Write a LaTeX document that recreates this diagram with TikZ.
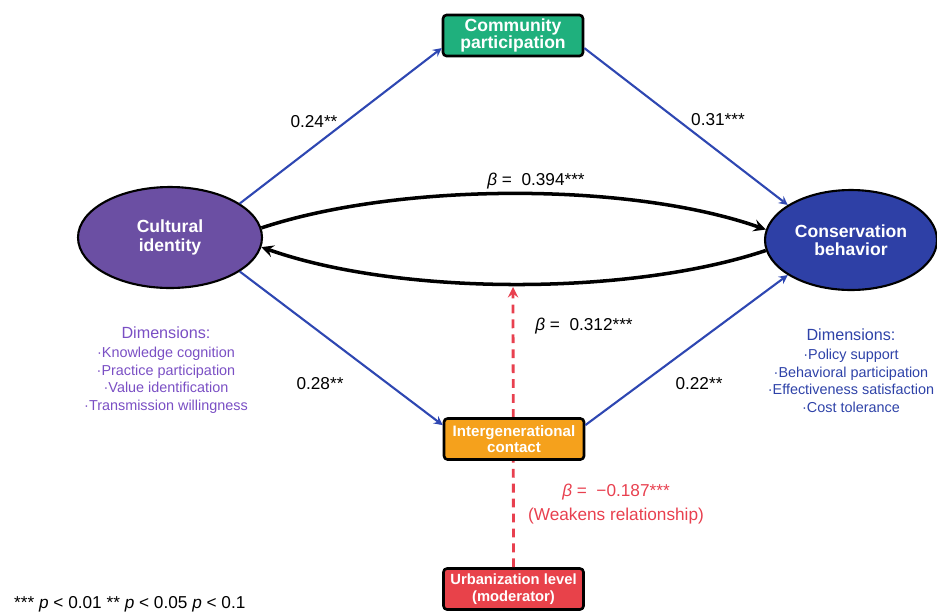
\documentclass[tikz,border=0pt]{standalone}
\usepackage{fontspec}
\setmainfont{Liberation Sans}
\usepackage{tikz}
\usetikzlibrary{arrows,shapes.geometric}
\definecolor{cpgreen}{rgb}{0.12,0.69,0.49}
\definecolor{cipurple}{rgb}{0.42,0.31,0.64}
\definecolor{cbblue}{rgb}{0.18,0.25,0.65}
\definecolor{icorange}{rgb}{0.96,0.63,0.11}
\definecolor{ulred}{rgb}{0.91,0.26,0.29}
\definecolor{lineblue}{rgb}{0.18,0.28,0.70}
\definecolor{dimpurple}{rgb}{0.48,0.31,0.77}
\definecolor{dimblue}{rgb}{0.18,0.26,0.66}
\definecolor{modred}{rgb}{0.91,0.25,0.31}
\tikzstyle{every node}=[font=\fontsize{9.8}{11.5}\selectfont]
\tikzstyle{latent}=[ellipse,draw=black,line width=1.2pt,minimum width=3.68cm,minimum height=2.02cm,inner sep=0pt,text=white,align=center,font=\bfseries\fontsize{10}{10.5}\selectfont]
\tikzstyle{observed}=[rectangle,rounded corners=2pt,draw=black,line width=1.5pt,minimum width=2.8cm,minimum height=0.82cm,inner sep=1pt,text=white,align=center,font=\bfseries\fontsize{8.6}{9.4}\selectfont]
\tikzstyle{pathline}=[->,line width=1.2pt,color=lineblue]
\tikzstyle{effect}=[->,line width=2pt,color=black]
\tikzstyle{dims}=[align=center,font=\fontsize{8.2}{10}\selectfont]

\begin{document}
\begin{tikzpicture}[line join=round,>=stealth,x=0.02cm,y=-0.02cm]
\useasboundingbox (0,0) rectangle (937,613);
% constructs
\node[latent,fill=cipurple] (ci) at (170,237.5) {Cultural\\identity};
\node[latent,fill=cbblue,minimum width=3.44cm,minimum height=2cm] (cb) at (851,240) {Conservation\\behavior};
\node[observed,fill=cpgreen,font=\bfseries\fontsize{10}{9.8}\selectfont] (cp) at (513,35.5) {Community\\participation};
\node[observed,fill=ulred,font=\bfseries\fontsize{8.4}{9.4}\selectfont] (ul) at (513.5,589) {Urbanization level\\(moderator)};
\coordinate (mod) at (513,287);

% moderating effect
\draw [->,line width=1.6pt,color=modred,dash pattern=on 5pt off 3.5pt] (ul.north) -- (mod);
\node[observed,fill=icorange] (ic) at (514,439) {Intergenerational\\contact};

% mediating paths
\draw [pathline] (ci.26) -- (cp.190);
\draw [pathline] (cp.-10) -- (cb.151);
\draw [pathline] (ci.-26) -- (ic.169);
\draw [pathline] (ic.11) -- (cb.209);

% direct effect and feedback
\draw [effect] (ci.6.5) .. controls (400,182) and (630,182) .. (cb.173);
\draw [effect] (cb.187) .. controls (630,296) and (400,296) .. (ci.-6);

% coefficients
\node (w24) at (314,122) {0.24**};
\node (w31) at (718,120) {0.31***};
\node (w28) at (320,384) {0.28**};
\node (w22) at (699,384) {0.22**};
\node (b394) at (536,181) {\textit{β} = \ 0.394***};
\node (b312) at (584,326) {\textit{β} = \ 0.312***};
\node[color=modred,align=center] (b187) at (616,504) {\textit{β} = \ −0.187***\\[2pt](Weakens relationship)};

% dimensions
\node[dims,color=dimpurple] (cidim) at (166,370) {{\fontsize{9.2}{10.5}\selectfont Dimensions:}\\[1pt]·Knowledge cognition\\·Practice participation\\·Value identification\\·Transmission willingness};
\node[dims,color=dimblue] (cbdim) at (851,370.5) {{\fontsize{9.2}{10.5}\selectfont Dimensions:}\\[1pt]·Policy support\\·Behavioral participation\\·Effectiveness satisfaction\\·Cost tolerance};

\node[anchor=west] (note) at (8,604) {*** \textit{p} < 0.01 ** \textit{p} < 0.05 \textit{p} < 0.1};
\end{tikzpicture}
\end{document}
